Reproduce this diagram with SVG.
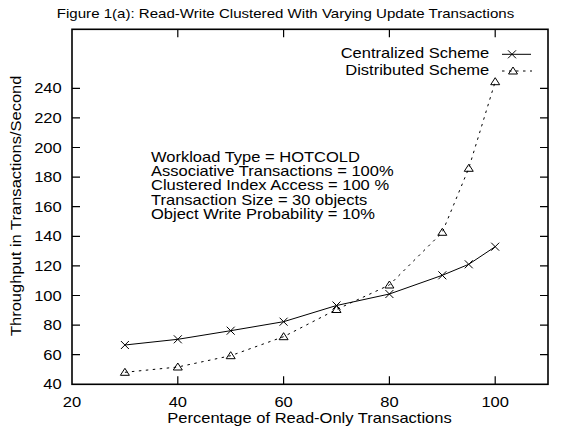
<svg xmlns="http://www.w3.org/2000/svg" width="567" height="434" viewBox="0 0 567 434">
  <style>
    text { font-family: "Liberation Sans", Arial, sans-serif; fill: #000; }
    .lbl { font-size: 14px; }
    .ttl { font-size: 13px; }
    .frame { fill: none; stroke: #000; stroke-width: 1.6; }
    .tick { stroke: #000; stroke-width: 1.2; }
    .solid { fill: none; stroke: #000; stroke-width: 1; }
    .dotted { fill: none; stroke: #000; stroke-width: 1; stroke-dasharray: 2.5 4.5; }
    .pt { fill: none; stroke: #000; stroke-width: 1; }
  </style>
  <defs>
    <g id="cross"><path class="pt" d="M-4,-4 L4,4 M-4,4 L4,-4"/></g>
    <g id="tri"><path class="pt" d="M0,-4 L4.5,3 L-4.5,3 Z"/></g>
  </defs>
  <rect width="567" height="434" fill="#fff"/>

  <!-- title -->
  <text class="ttl" text-anchor="middle" transform="translate(285.5,18.3) scale(1.16,1)">Figure 1(a): Read-Write Clustered With Varying Update Transactions</text>

  <!-- plot frame and tics -->
  <g id="axes">
    <rect class="frame" x="72" y="29.3" width="476" height="355"/>
    <path class="tick" d="M72,354.7h8M72,325.1h8M72,295.5h8M72,265.9h8M72,236.3h8M72,206.7h8M72,177.1h8M72,147.5h8M72,117.9h8M72,88.3h8
      M548,354.7h-8M548,325.1h-8M548,295.5h-8M548,265.9h-8M548,236.3h-8M548,206.7h-8M548,177.1h-8M548,147.5h-8M548,117.9h-8M548,88.3h-8
      M177.8,384.3v-8M283.6,384.3v-8M389.4,384.3v-8M495.2,384.3v-8
      M177.8,29.3v8M283.6,29.3v8M389.4,29.3v8M495.2,29.3v8"/>
    <g class="lbl" text-anchor="end">
      <text transform="translate(61.7,389.3) scale(1.18,1)">40</text>
      <text transform="translate(61.7,359.7) scale(1.18,1)">60</text>
      <text transform="translate(61.7,330.1) scale(1.18,1)">80</text>
      <text transform="translate(61.7,300.5) scale(1.18,1)">100</text>
      <text transform="translate(61.7,270.9) scale(1.18,1)">120</text>
      <text transform="translate(61.7,241.3) scale(1.18,1)">140</text>
      <text transform="translate(61.7,211.7) scale(1.18,1)">160</text>
      <text transform="translate(61.7,182.1) scale(1.18,1)">180</text>
      <text transform="translate(61.7,152.5) scale(1.18,1)">200</text>
      <text transform="translate(61.7,122.9) scale(1.18,1)">220</text>
      <text transform="translate(61.7,93.3) scale(1.18,1)">240</text>
    </g>
    <g class="lbl" text-anchor="middle">
      <text transform="translate(72,407.3) scale(1.18,1)">20</text>
      <text transform="translate(177.8,407.3) scale(1.18,1)">40</text>
      <text transform="translate(283.6,407.3) scale(1.18,1)">60</text>
      <text transform="translate(389.4,407.3) scale(1.18,1)">80</text>
      <text transform="translate(495.2,407.3) scale(1.18,1)">100</text>
    </g>
    <text class="lbl" text-anchor="middle" transform="translate(309.5,423.3) scale(1.18,1)">Percentage of Read-Only Transactions</text>
    <text class="lbl" text-anchor="middle" transform="translate(21,205.8) rotate(-90) scale(1.18,1)">Throughput in Transactions/Second</text>
  </g>

  <!-- workload parameters -->
  <g id="params" class="lbl">
    <text transform="translate(151,161.5) scale(1.18,1)">Workload Type = HOTCOLD</text>
    <text transform="translate(151,175.9) scale(1.18,1)">Associative Transactions = 100%</text>
    <text transform="translate(151,190.3) scale(1.18,1)">Clustered Index Access = 100 %</text>
    <text transform="translate(151,204.7) scale(1.18,1)">Transaction Size = 30 objects</text>
    <text transform="translate(151,219.1) scale(1.18,1)">Object Write Probability = 10%</text>
  </g>

  <!-- legend -->
  <g id="legend" class="lbl" text-anchor="end">
    <text transform="translate(489.3,58) scale(1.18,1)">Centralized Scheme</text>
    <path class="solid" d="M502,54.3H531"/>
    <use href="#cross" x="512" y="54.3"/>
    <text transform="translate(489.3,74.5) scale(1.18,1)">Distributed Scheme</text>
    <path class="dotted" d="M502,71H532"/>
    <use href="#tri" x="513" y="71"/>
  </g>

  <!-- data series -->
  <g id="connectors">
    <polyline class="solid" points="124.9,345 177.8,339.3 230.7,330.7 283.6,321.7 336.5,305.5 389.4,294 442.3,275.3 468.75,264.3 495.2,246.7"/>
    <polyline class="dotted" points="124.9,372.3 177.8,367 230.7,355.7 283.6,336.7 336.5,309.5 389.4,285 442.3,232.3 468.75,168.3 495.2,81.7"/>
  </g>
  <g id="centralized">
    <use href="#cross" x="124.9" y="345"/>
    <use href="#cross" x="177.8" y="339.3"/>
    <use href="#cross" x="230.7" y="330.7"/>
    <use href="#cross" x="283.6" y="321.7"/>
    <use href="#cross" x="336.5" y="305.5"/>
    <use href="#cross" x="389.4" y="294"/>
    <use href="#cross" x="442.3" y="275.3"/>
    <use href="#cross" x="468.75" y="264.3"/>
    <use href="#cross" x="495.2" y="246.7"/>
  </g>
  <g id="distributed">
    <use href="#tri" x="124.9" y="372.3"/>
    <use href="#tri" x="177.8" y="367"/>
    <use href="#tri" x="230.7" y="355.7"/>
    <use href="#tri" x="283.6" y="336.7"/>
    <use href="#tri" x="336.5" y="309.5"/>
    <use href="#tri" x="389.4" y="285"/>
    <use href="#tri" x="442.3" y="232.3"/>
    <use href="#tri" x="468.75" y="168.3"/>
    <use href="#tri" x="495.2" y="81.7"/>
  </g>
</svg>
